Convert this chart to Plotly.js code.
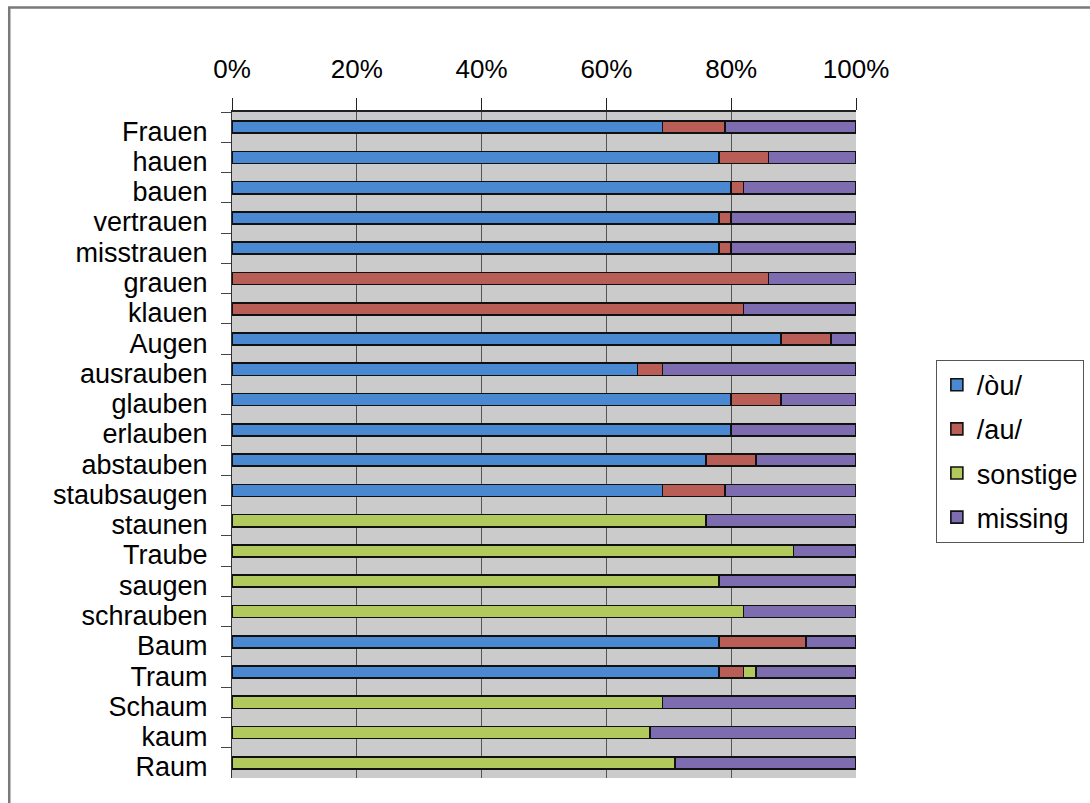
<!DOCTYPE html>
<html>
<head>
<meta charset="utf-8">
<script src="https://cdn.plot.ly/plotly-3.0.1.min.js"></script>
<style>
  html, body { margin: 0; padding: 0; background: #ffffff; }
  #chart { width: 1090px; height: 803px; }
</style>
</head>
<body>
<div id="chart"></div>
<script>
const categories = ["Frauen", "hauen", "bauen", "vertrauen", "misstrauen", "grauen", "klauen", "Augen",
  "ausrauben", "glauben", "erlauben", "abstauben", "staubsaugen", "staunen", "Traube", "saugen",
  "schrauben", "Baum", "Traum", "Schaum", "kaum", "Raum"];

const seriesNames = ["/òu/", "/au/", "sonstige", "missing"];

const ouValues       = [69, 78, 80, 78, 78, null, null, 88, 65, 80, 80, 76, 69, null, null, null, null, 78, 78, null, null, null];
const auValues       = [10, 8, 2, 2, 2, 86, 82, 8, 4, 8, null, 8, 10, null, null, null, null, 14, 4, null, null, null];
const sonstigeValues = [null, null, null, null, null, null, null, null, null, null, null, null, null, 76, 90, 78, 82, null, 2, 69, 67, 71];
const missingValues  = [21, 14, 18, 20, 20, 14, 18, 4, 31, 12, 20, 16, 21, 24, 10, 22, 18, 8, 16, 31, 33, 29];

const xTickValues = [0, 20, 40, 60, 80, 100];
const xTickLabels = ["0%", "20%", "40%", "60%", "80%", "100%"];

const colors = ["#4a88d2", "#b95e56", "#b1c95d", "#7e6cb0"];
const valueSets = [ouValues, auValues, sonstigeValues, missingValues];

const traces = valueSets.map((vals, i) => ({
  type: "bar",
  orientation: "h",
  name: seriesNames[i],
  legendgroup: "g" + i,
  x: vals,
  y: categories,
  marker: { color: colors[i], line: { color: "#111111", width: 1.6 } },
  hoverinfo: "x+y+name"
}));

const fontFam = "Liberation Sans, Arial, sans-serif";

const layout = {
  width: 1090,
  height: 803,
  margin: { l: 232, r: 234, t: 112, b: 25, pad: 0, autoexpand: false },
  paper_bgcolor: "#ffffff",
  plot_bgcolor: "#cbcbcb",
  barmode: "stack",
  bargap: 0.6,
  showlegend: true,
  xaxis: {
    side: "top",
    range: [0, 100],
    tickmode: "array",
    tickvals: xTickValues,
    ticktext: xTickLabels,
    ticks: "outside",
    ticklen: 12,
    tickwidth: 1,
    tickcolor: "#222222",
    ticklabelstandoff: 10,
    showgrid: true,
    gridcolor: "#555555",
    gridwidth: 1,
    showline: true,
    linecolor: "#222222",
    linewidth: 2,
    zeroline: false,
    fixedrange: true,
    automargin: false,
    tickfont: { family: fontFam, size: 26, color: "#000000" }
  },
  yaxis: {
    type: "category",
    autorange: "reversed",
    tickmode: "linear",
    dtick: 1,
    ticks: "outside",
    tickson: "boundaries",
    ticklen: 10,
    tickwidth: 1,
    tickcolor: "#444444",
    ticklabelstandoff: 18,
    ticklabelshift: -4,
    showgrid: false,
    showline: true,
    linecolor: "#333333",
    linewidth: 1,
    zeroline: false,
    fixedrange: true,
    automargin: false,
    tickfont: { family: fontFam, size: 27, color: "#000000" }
  },
  legend: {
    x: 1.128,
    xanchor: "left",
    y: 0.628,
    yanchor: "top",
    bgcolor: "#ffffff",
    bordercolor: "#555555",
    borderwidth: 1,
    traceorder: "grouped",
    tracegroupgap: 6,
    itemwidth: 30,
    font: { family: fontFam, size: 27, color: "#000000" }
  },
  shapes: [
    {
      type: "rect", xref: "paper", yref: "paper",
      x0: -0.357, x1: 1.6, y0: -0.2, y1: 1.157,
      line: { color: "#7a7a7a", width: 2.5 },
      fillcolor: "rgba(0,0,0,0)",
      layer: "below"
    }
  ]
};

Plotly.newPlot("chart", traces, layout, { displayModeBar: false, staticPlot: true });
</script>
</body>
</html>
